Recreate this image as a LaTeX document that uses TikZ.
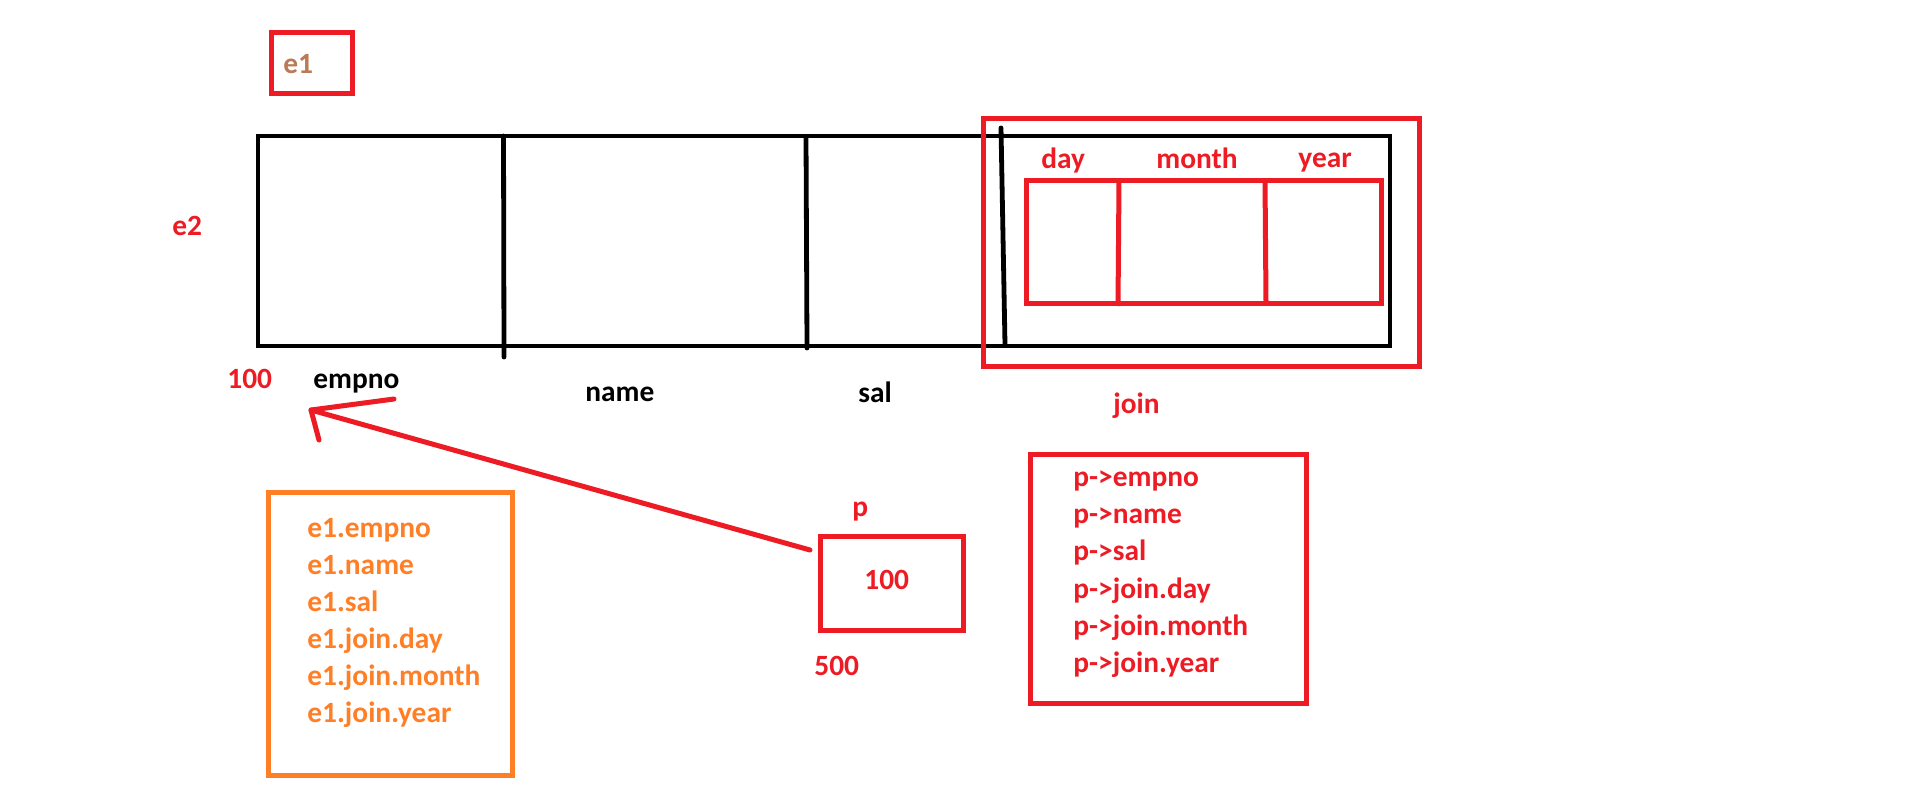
\documentclass[tikz,border=0pt]{standalone}
\usepackage{fontspec}
\setmainfont{Carlito}
\usetikzlibrary{fit}
\definecolor{pred}{HTML}{ED1C24}
\definecolor{porange}{HTML}{FF7F27}
\definecolor{pbrown}{HTML}{B97A57}
\begin{document}
\begin{tikzpicture}[x=0.5pt,y=-0.5pt,
  lbl/.style={anchor=base west,inner sep=0pt,font=\bfseries\fontsize{14.7}{17}\selectfont},
  redline/.style={draw=pred,line width=2.5pt},
  blackline/.style={draw=black,line width=2.4pt},
  orangeline/.style={draw=porange,line width=2.5pt},
  box/.style={rectangle,inner sep=0pt}]
\useasboundingbox (0,0) rectangle (1914,809);
\fill[white] (0,0) rectangle (1914,809);

% e1 box
\node (e1box) [box,redline,fit={(271,32)(352,93)}] {};
\node (e1) [lbl,text=pbrown] at (283,73) {e1};
\node (e2) [lbl,text=pred] at (172,235) {e2};

% main structure box
\node (mainbox) [box,blackline,fit={(258,136)(1390,346)}] {};
\coordinate (d1t) at (503.5,136); \coordinate (d1b) at (504,357);
\coordinate (d2t) at (806,138); \coordinate (d2b) at (807,348);
\coordinate (d3t) at (1001,128); \coordinate (d3b) at (1005,345);
\draw[blackline,line cap=round] (d1t) -- (d1b);
\draw[blackline,line cap=round] (d2t) -- (d2b);
\draw[blackline,line cap=round] (d3t) -- (d3b);

% join boxes
\node (joinbox) [box,redline,fit={(983,118)(1419,366)}] {};
\node (datebox) [box,redline,fit={(1026,180)(1381,303)}] {};
\coordinate (j1t) at (1119,180); \coordinate (j1b) at (1118,306);
\coordinate (j2t) at (1265,180); \coordinate (j2b) at (1266,303);
\draw[redline] (j1t) -- (j1b);
\draw[redline] (j2t) -- (j2b);
\node (day) [lbl,text=pred] at (1041,168) {day};
\node (month) [lbl,text=pred] at (1156,168) {month};
\node (year) [lbl,text=pred] at (1298,167) {year};
\node (join) [lbl,text=pred] at (1113,413) {join};

% field labels
\node (addr) [lbl,text=pred] at (227,388) {100};
\node (empno) [lbl] at (313,388) {empno};
\node (name) [lbl] at (585,401) {name};
\node (sal) [lbl] at (858,402) {sal};

% orange box
\node (obox) [box,orangeline,fit={(268,492)(512,775)}] {};
\node (o1) [lbl,text=porange] at (307,537) {e1.empno};
\node (o2) [lbl,text=porange] at (307,574) {e1.name};
\node (o3) [lbl,text=porange] at (307,611) {e1.sal};
\node (o4) [lbl,text=porange] at (307,648) {e1.join.day};
\node (o5) [lbl,text=porange] at (307,685) {e1.join.month};
\node (o6) [lbl,text=porange] at (307,722) {e1.join.year};

% pointer p
\node (pname) [lbl,text=pred] at (852,516) {p};
\node (pbox) [box,redline,fit={(820,536)(963,630)}] {};
\node (pval) [lbl,text=pred] at (864,589) {100};
\node (paddr) [lbl,text=pred] at (814,675) {500};

% arrow
\coordinate (pend) at (810,550);
\coordinate (tip) at (311,410);
\coordinate (barbA) at (394,399);
\coordinate (barbB) at (319,440);
\draw[redline,line cap=round] (pend) -- (tip);
\draw[redline,line cap=round,line join=round] (barbA) -- (tip) -- (barbB);

% p-> box
\node (arrbox) [box,redline,fit={(1030,454)(1306,703)}] {};
\node (q1) [lbl,text=pred] at (1073,486) {p->empno};
\node (q2) [lbl,text=pred] at (1073,523) {p->name};
\node (q3) [lbl,text=pred] at (1073,560) {p->sal};
\node (q4) [lbl,text=pred] at (1073,598) {p->join.day};
\node (q5) [lbl,text=pred] at (1073,635) {p->join.month};
\node (q6) [lbl,text=pred] at (1073,672) {p->join.year};
\end{tikzpicture}
\end{document}
